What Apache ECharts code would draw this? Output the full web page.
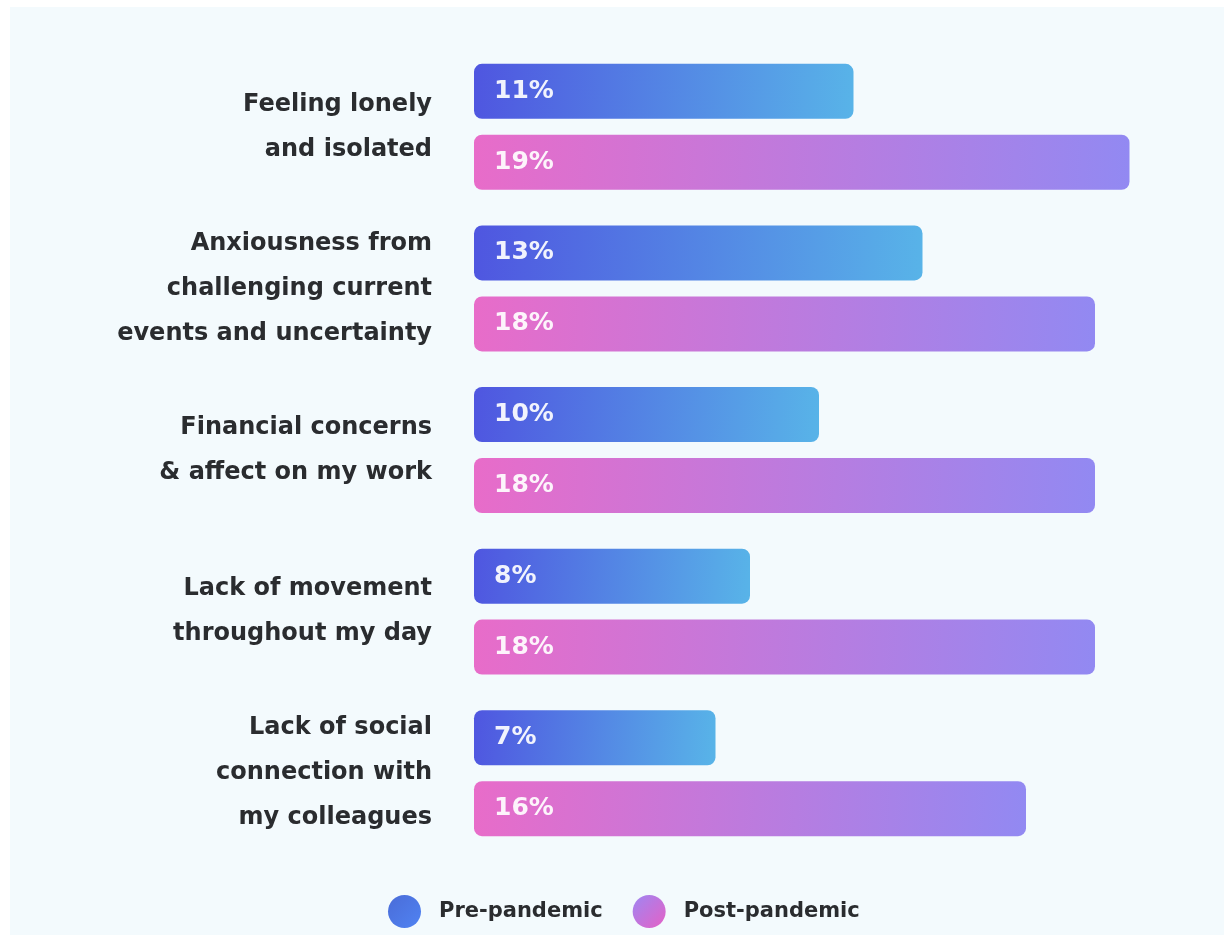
<!DOCTYPE html>
<html>
<head>
<meta charset="utf-8">
<script src="https://cdn.jsdelivr.net/npm/echarts@6/dist/echarts.min.js"></script>
<style>
  html, body { margin: 0; padding: 0; background: #ffffff; }
  #panel { position: absolute; left: 10px; top: 7px; right: 0; bottom: 0; background: #f3fafd; }
  #chart { position: absolute; left: 0; top: 0; width: 1224px; height: 935px; }
</style>
</head>
<body>
<div id="panel"></div>
<div id="chart"></div>
<script>
// Survey: share of respondents naming each wellbeing concern
const categories = [
  'Feeling lonely\nand isolated',
  'Anxiousness from\nchallenging current\nevents and uncertainty',
  'Financial concerns\n& affect on my work',
  'Lack of movement\nthroughout my day',
  'Lack of social\nconnection with\nmy colleagues'
];
const prePandemic = [11, 13, 10, 8, 7];
const postPandemic = [19, 18, 18, 18, 16];
const seriesNames = ['Pre-pandemic', 'Post-pandemic'];

const FONT = '"DejaVu Sans", Verdana, sans-serif';
const INK = '#2a2c2f';

const blueFill = new echarts.graphic.LinearGradient(0, 0, 1, 0.4, [
  { offset: 0, color: '#4f56e0' },
  { offset: 1, color: '#58b3e8' }
]);
const pinkFill = new echarts.graphic.LinearGradient(0, 0, 1, 0.4, [
  { offset: 0, color: '#e86cc9' },
  { offset: 1, color: '#9289f2' }
]);
// legend dots
const blueDot = new echarts.graphic.LinearGradient(0, 0, 1, 1, [
  { offset: 0, color: '#4a6cd8' },
  { offset: 1, color: '#5083f2' }
]);
const pinkDot = new echarts.graphic.LinearGradient(0, 0, 1, 1, [
  { offset: 0, color: '#9f86f2' },
  { offset: 1, color: '#e561c6' }
]);

const valueLabel = {
  show: true,
  position: 'insideLeft',
  distance: 20,
  formatter: '{c}%',
  color: 'rgba(255,255,255,0.92)',
  fontFamily: FONT,
  fontWeight: 'bold',
  fontSize: 25
};

const chart = echarts.init(document.getElementById('chart'), null, { renderer: 'canvas' });
chart.setOption({
  backgroundColor: 'transparent',
  animation: false,
  grid: { left: 474, right: 60, top: 46, bottom: 81, containLabel: false },
  xAxis: {
    type: 'value', min: 0, max: 20,
    show: false
  },
  yAxis: {
    type: 'category',
    data: categories,
    inverse: true,
    axisLine: { show: false },
    axisTick: { show: false },
    splitLine: { show: false },
    axisLabel: {
      margin: 42,
      align: 'right',
      color: INK,
      fontFamily: FONT,
      fontWeight: 'bold',
      fontSize: 24,
      lineHeight: 45
    }
  },
  legend: {
    data: [
      { name: seriesNames[0], itemStyle: { color: blueDot } },
      { name: seriesNames[1], itemStyle: { color: pinkDot } }
    ],
    left: 383,
    top: 890,
    icon: 'circle',
    itemWidth: 33,
    itemHeight: 33,
    itemGap: 30,
    textStyle: {
      color: INK,
      fontFamily: FONT,
      fontWeight: 'bold',
      fontSize: 21,
      padding: [0, 0, 0, 13]
    }
  },
  series: [
    {
      name: seriesNames[0],
      type: 'bar',
      data: prePandemic,
      barWidth: 55,
      barGap: '29%',
      itemStyle: { color: blueFill, borderRadius: 8 },
      label: valueLabel
    },
    {
      name: seriesNames[1],
      type: 'bar',
      data: postPandemic,
      barWidth: 55,
      itemStyle: { color: pinkFill, borderRadius: 8 },
      label: valueLabel
    }
  ]
});
</script>
</body>
</html>
